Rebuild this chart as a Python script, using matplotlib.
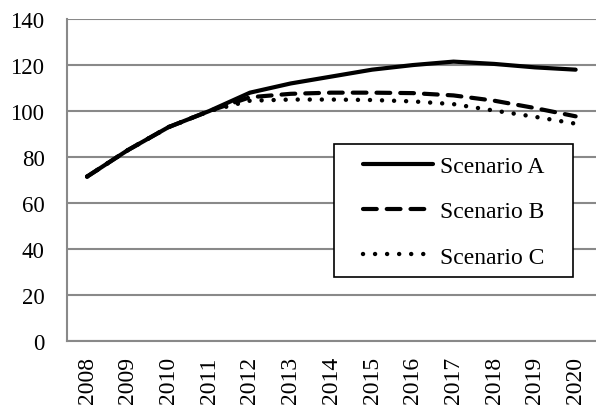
import matplotlib
matplotlib.use("Agg")
import matplotlib.pyplot as plt
from matplotlib.patches import Rectangle

years = ["2008", "2009", "2010", "2011", "2012", "2013", "2014",
         "2015", "2016", "2017", "2018", "2019", "2020"]
scen_a = [71.5, 83, 93, 100, 108, 112, 115, 118, 120, 121.5, 120.5, 119, 118]
scen_b = [71.5, 83, 93, 100, 106, 107.5, 108, 108, 107.8, 106.8, 104.5, 101.3, 97.7]
scen_c = [71.5, 83, 93, 100, 104.5, 105, 105, 104.8, 104.2, 103, 100.2, 97.5, 94.5]

plt.rcParams["font.family"] = ["Liberation Serif", "DejaVu Serif"]

fig = plt.figure(figsize=(5.96, 4.10), dpi=100)
ax = fig.add_axes([0.112, 0.166, 0.888, 0.785])

x = range(len(years))
ax.plot(x, scen_a, color="black", linewidth=3, solid_capstyle="round",
        label="Scenario A")
ax.plot(x, scen_b, color="black", linewidth=3, linestyle=(0, (3.3, 2.4)),
        dash_capstyle="round", label="Scenario B")
ax.plot(x, scen_c, color="black", linewidth=3.2, linestyle=(0, (0.01, 2.7)),
        dash_capstyle="round", label="Scenario C")

ax.set_xlim(-0.5, len(years) - 0.5)
ax.set_ylim(0, 140)
ax.set_yticks(range(0, 141, 20))
ax.set_xticks(list(x))
ax.set_xticklabels(years, rotation=90)
ax.tick_params(length=0, colors="black")
ax.tick_params(axis="y", labelsize=16.5, pad=16)
ax.tick_params(axis="x", labelsize=17, pad=11)

ax.grid(axis="y", color="#898989", linewidth=1.5)
ax.set_axisbelow(True)
for s in ["top", "right"]:
    ax.spines[s].set_visible(False)
for s in ["left", "bottom"]:
    ax.spines[s].set_color("#898989")
    ax.spines[s].set_linewidth(1.5)

# legend box drawn separately so the padding matches the original
box = Rectangle((0.505, 0.199), 0.452, 0.413, transform=ax.transAxes,
                facecolor="white", edgecolor="black", linewidth=1.2, zorder=4)
ax.add_patch(box)
leg = ax.legend(loc="center", bbox_to_anchor=(0.7306, 0.402), fontsize=17,
                frameon=False, handlelength=2.97, handletextpad=0.3,
                labelspacing=1.01, borderpad=0, borderaxespad=0)
leg.set_zorder(5)

fig.savefig("out.png", dpi=100)
